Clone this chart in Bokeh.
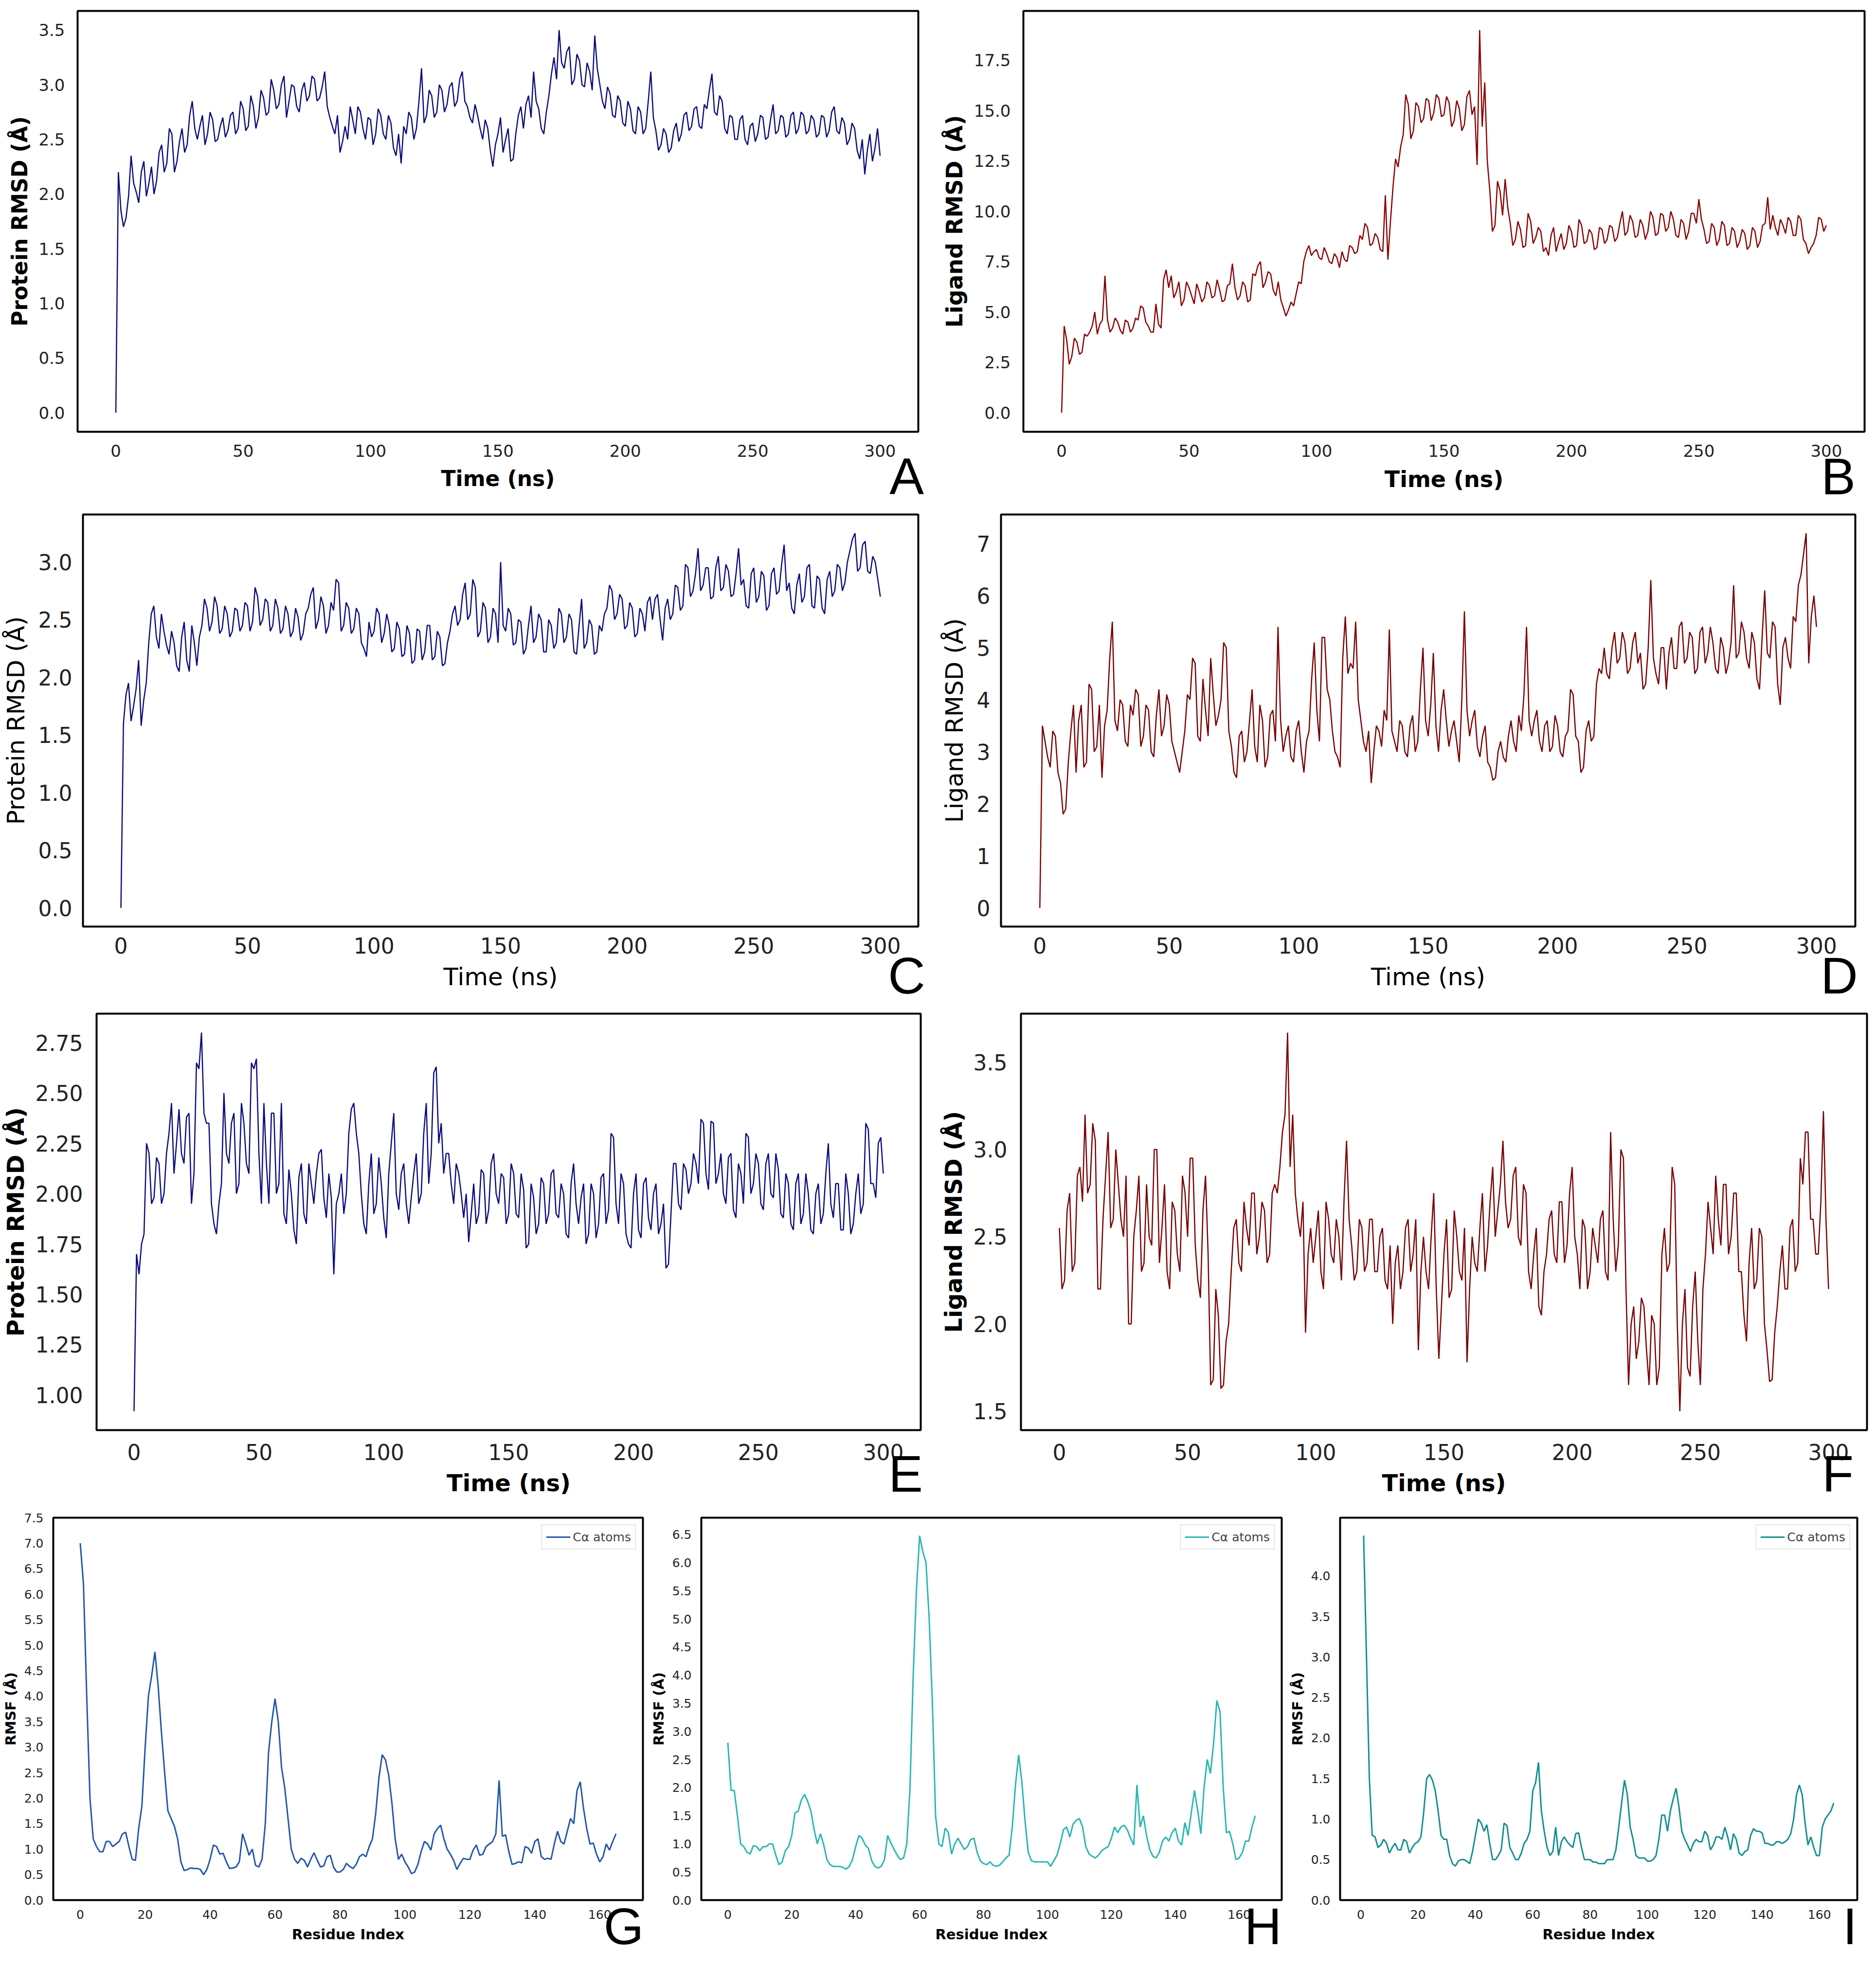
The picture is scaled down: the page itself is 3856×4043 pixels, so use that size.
from bokeh.plotting import figure
from bokeh.layouts import column, row
from bokeh.models import FixedTicker, PrintfTickFormatter, Range1d, LinearAxis
from bokeh.embed import file_html
from bokeh.resources import INLINE

# ---- data (one value per ns) ----
time_ns = list(range(0, 301))

rmsd_a = [0.0, 2.2, 1.85, 1.7, 1.78, 1.98, 2.35, 2.1, 2.02, 1.92,
          2.2, 2.3, 1.98, 2.1, 2.25, 2.0, 2.12, 2.38, 2.45, 2.2,
          2.28, 2.6, 2.55, 2.2, 2.3, 2.48, 2.6, 2.38, 2.45, 2.72,
          2.85, 2.6, 2.5, 2.62, 2.72, 2.45, 2.55, 2.75, 2.68, 2.48,
          2.5, 2.62, 2.7, 2.52, 2.58, 2.72, 2.75, 2.55, 2.6, 2.85,
          2.78, 2.58, 2.62, 2.9, 2.8, 2.6, 2.7, 2.95, 2.88, 2.72,
          2.75, 3.05, 2.95, 2.78, 2.82, 3.0, 3.08, 2.7, 2.85, 3.0,
          2.98, 2.8, 2.75, 2.95, 3.02, 2.85, 2.9, 3.08, 3.05, 2.85,
          2.88, 2.98, 3.12, 2.8, 2.7, 2.62, 2.55, 2.72, 2.38, 2.48,
          2.62, 2.5, 2.8, 2.68, 2.55, 2.8, 2.75, 2.6, 2.5, 2.7,
          2.68, 2.45, 2.55, 2.78, 2.72, 2.55, 2.5, 2.72, 2.65, 2.42,
          2.35, 2.55, 2.28, 2.62, 2.55, 2.75, 2.7, 2.5, 2.6, 2.85,
          3.15, 2.65, 2.72, 2.95, 2.9, 2.7, 2.75, 3.0, 2.95, 2.75,
          2.82, 2.98, 3.02, 2.8, 2.85, 3.05, 3.12, 2.85, 2.8, 2.7,
          2.65, 2.82, 2.72, 2.6, 2.5, 2.68, 2.6, 2.4, 2.25, 2.45,
          2.55, 2.7, 2.38, 2.5, 2.6, 2.3, 2.32, 2.55, 2.72, 2.8,
          2.6, 2.82, 2.9, 2.7, 3.12, 2.85, 2.78, 2.6, 2.55, 2.75,
          2.9, 3.1, 3.25, 3.05, 3.5, 3.2, 3.15, 3.3, 3.35, 3.0,
          3.05, 3.28, 3.22, 3.0, 2.98, 3.2, 3.12, 2.95, 3.45, 3.15,
          3.0, 2.85, 2.78, 2.98, 2.92, 2.72, 2.7, 2.9, 2.85, 2.65,
          2.62, 2.85, 2.78, 2.58, 2.55, 2.8, 2.75, 2.55, 2.6, 2.85,
          3.12, 2.7, 2.58, 2.4, 2.45, 2.6, 2.55, 2.38, 2.42, 2.58,
          2.65, 2.48, 2.55, 2.72, 2.75, 2.58, 2.62, 2.78, 2.8, 2.62,
          2.6, 2.82, 2.78, 2.95, 3.1, 2.75, 2.72, 2.9, 2.85, 2.6,
          2.55, 2.72, 2.7, 2.5, 2.5, 2.68, 2.72, 2.5, 2.45, 2.62,
          2.65, 2.48, 2.55, 2.72, 2.7, 2.5, 2.52, 2.68, 2.82, 2.55,
          2.58, 2.72, 2.7, 2.52, 2.55, 2.72, 2.75, 2.55, 2.6, 2.75,
          2.72, 2.55, 2.58, 2.72, 2.68, 2.52, 2.55, 2.72, 2.7, 2.52,
          2.58, 2.75, 2.8, 2.58, 2.55, 2.7, 2.65, 2.45, 2.5, 2.65,
          2.6, 2.4, 2.32, 2.5, 2.18, 2.4, 2.55, 2.3, 2.42, 2.6,
          2.35]

rmsd_b = [0.0, 4.3, 3.6, 2.4, 2.8, 3.7, 3.5, 2.9, 3.0, 3.9,
          3.8, 4.0, 4.3, 5.0, 3.9, 4.4, 4.6, 6.8, 4.6, 4.0,
          4.2, 4.7, 4.5, 4.1, 3.9, 4.6, 4.5, 4.0, 4.2, 4.7,
          4.6, 5.3, 5.2, 4.5, 4.3, 4.0, 4.0, 5.4, 4.4, 4.2,
          6.6, 7.1, 6.2, 6.8, 5.7, 6.0, 6.5, 5.3, 5.6, 6.5,
          6.2, 5.8, 5.4, 6.4, 6.0, 5.5, 5.7, 6.5, 6.3, 5.7,
          5.8, 6.6, 6.1, 5.5, 5.6, 6.3, 6.4, 7.4, 6.2, 5.6,
          5.8, 6.5, 6.3, 5.5, 5.6, 6.9, 6.8, 7.3, 7.5, 6.2,
          6.5, 7.0, 6.9, 6.1, 5.8, 6.5, 5.6, 5.2, 4.8, 5.1,
          5.5, 5.3, 5.9, 6.5, 6.4, 7.5, 8.0, 8.3, 7.8, 8.0,
          8.1, 7.7, 7.6, 8.2, 7.9, 7.5, 7.4, 7.9, 7.7, 7.2,
          8.0, 7.6, 7.5, 8.3, 8.2, 7.9, 8.0, 8.8, 8.6, 9.4,
          9.2, 8.3, 8.4, 8.9, 8.7, 8.1, 8.0, 10.8, 7.6, 9.5,
          11.2, 12.6, 12.2, 13.2, 13.8, 15.8, 15.3, 13.6, 14.0, 15.4,
          15.2, 14.4, 14.6, 15.6, 15.5, 14.5, 14.9, 15.8, 15.6, 14.7,
          14.8, 15.7, 15.4, 14.2, 14.5, 15.5, 15.1, 14.0, 14.3, 15.7,
          16.0, 14.8, 15.2, 12.3, 19.0, 14.2, 16.4, 12.5, 11.0, 9.0,
          9.3, 11.5, 11.0, 9.8, 11.6, 10.2, 9.4, 8.3, 8.6, 9.5,
          9.1, 8.2, 8.3, 9.9, 9.5, 8.4, 8.7, 9.2, 9.0, 8.0,
          8.2, 7.8, 8.8, 9.2, 8.0, 8.5, 8.9, 8.1, 8.4, 9.3,
          9.0, 8.2, 8.3, 9.6, 9.3, 8.4, 8.5, 9.1, 8.9, 8.1,
          8.2, 9.2, 9.1, 8.4, 8.6, 9.3, 9.2, 8.5, 8.7, 9.4,
          10.0, 8.8, 9.0, 9.8, 9.5, 8.7, 8.8, 9.6, 9.3, 8.6,
          9.0, 10.0, 9.7, 8.8, 8.9, 9.9, 9.8, 9.0, 9.2, 10.0,
          9.6, 8.8, 8.7, 9.6, 9.4, 8.6, 9.0, 9.9, 9.9, 9.4,
          10.6, 9.6, 9.1, 8.4, 8.5, 9.4, 9.2, 8.3, 8.6, 9.5,
          9.3, 8.3, 8.4, 9.2, 9.0, 8.2, 8.5, 9.1, 8.9, 8.1,
          8.3, 9.2, 9.0, 8.2, 8.5, 9.3, 9.4, 10.7, 9.1, 9.8,
          9.2, 8.8, 9.6, 9.3, 8.9, 9.7, 9.5, 8.8, 8.8, 9.8,
          9.6, 8.6, 8.4, 7.9, 8.2, 8.4, 8.8, 9.7, 9.6, 9.0,
          9.3]

rmsd_c = [0.0, 1.6, 1.85, 1.95, 1.62, 1.75, 1.9, 2.15, 1.58, 1.8,
          1.95, 2.3, 2.55, 2.62, 2.35, 2.25, 2.55, 2.4, 2.28, 2.2,
          2.4, 2.3, 2.1, 2.05, 2.35, 2.48, 2.15, 2.05, 2.45, 2.3,
          2.1, 2.35, 2.45, 2.68, 2.6, 2.4, 2.48, 2.7, 2.62, 2.38,
          2.42, 2.62, 2.55, 2.35, 2.4, 2.6, 2.58, 2.4, 2.45, 2.65,
          2.62, 2.4, 2.48, 2.78, 2.7, 2.45, 2.5, 2.68, 2.65, 2.4,
          2.45, 2.68, 2.6, 2.38, 2.42, 2.62, 2.55, 2.35, 2.4, 2.6,
          2.52, 2.32, 2.38, 2.55, 2.6, 2.72, 2.78, 2.42, 2.5, 2.7,
          2.62, 2.38, 2.45, 2.65, 2.58, 2.85, 2.82, 2.4, 2.45, 2.65,
          2.6, 2.38, 2.42, 2.6, 2.55, 2.3, 2.25, 2.18, 2.48, 2.35,
          2.4, 2.6, 2.55, 2.3, 2.38, 2.55, 2.45, 2.22, 2.25, 2.48,
          2.42, 2.18, 2.2, 2.45, 2.38, 2.12, 2.15, 2.42, 2.4, 2.15,
          2.22, 2.45, 2.45, 2.15, 2.18, 2.4, 2.35, 2.1, 2.12, 2.3,
          2.4, 2.55, 2.62, 2.45, 2.5, 2.72, 2.82, 2.5, 2.55, 2.85,
          2.78, 2.35, 2.4, 2.65, 2.6, 2.3, 2.35, 2.6, 2.55, 2.3,
          3.0, 2.45, 2.4, 2.6, 2.55, 2.28, 2.3, 2.5, 2.48, 2.2,
          2.25, 2.45, 2.62, 2.3, 2.35, 2.55, 2.5, 2.22, 2.22, 2.5,
          2.45, 2.25, 2.3, 2.6, 2.55, 2.3, 2.35, 2.55, 2.5, 2.22,
          2.2, 2.45, 2.68, 2.25, 2.3, 2.5, 2.45, 2.2, 2.22, 2.45,
          2.4, 2.55, 2.6, 2.8, 2.75, 2.5, 2.55, 2.72, 2.68, 2.42,
          2.45, 2.65, 2.6, 2.35, 2.38, 2.6, 2.55, 2.4, 2.65, 2.7,
          2.5, 2.68, 2.72, 2.5, 2.32, 2.6, 2.68, 2.5, 2.55, 2.8,
          2.78, 2.58, 2.62, 2.98, 2.95, 2.7, 2.75, 2.9, 3.12, 2.75,
          2.8, 2.95, 2.95, 2.68, 2.7, 2.95, 3.05, 2.75, 2.78, 2.98,
          2.92, 2.7, 2.72, 2.9, 3.12, 2.8, 2.85, 2.62, 2.6, 2.9,
          2.95, 2.65, 2.7, 2.92, 2.88, 2.58, 2.62, 2.9, 2.95, 2.72,
          2.75, 2.98, 3.15, 2.75, 2.82, 2.6, 2.55, 2.8, 2.9, 2.65,
          2.7, 2.95, 2.98, 2.62, 2.6, 2.88, 2.85, 2.6, 2.55, 2.85,
          2.92, 2.7, 2.75, 2.98, 2.95, 2.75, 2.82, 3.0, 3.1, 3.2,
          3.25, 2.92, 2.95, 3.15, 3.18, 2.92, 2.9, 3.05, 3.0, 2.85,
          2.7]

rmsd_d = [0.0, 3.5, 3.2, 2.9, 2.7, 3.4, 3.3, 2.6, 2.4, 1.8,
          1.9, 2.8, 3.4, 3.9, 2.6, 3.6, 3.9, 2.7, 2.8, 4.3,
          4.2, 3.0, 3.1, 3.9, 2.5, 3.5, 3.8, 4.8, 5.5, 3.6,
          3.4, 4.0, 3.9, 3.2, 3.1, 3.9, 3.7, 4.2, 4.1, 3.1,
          3.3, 3.9, 3.8, 3.0, 2.9, 3.7, 4.2, 3.3, 3.5, 4.1,
          3.9, 3.2, 3.0, 2.8, 2.6, 3.0, 3.4, 4.1, 4.0, 4.8,
          4.7, 3.3, 3.2, 4.4, 3.8, 3.3, 4.8, 4.1, 3.5, 3.7,
          4.0, 5.1, 5.0, 3.4, 3.1, 2.6, 2.5, 3.3, 3.4, 2.8,
          3.0, 3.6, 4.2, 3.1, 2.8, 3.9, 3.6, 2.7, 2.9, 3.7,
          3.8, 3.2, 5.4, 3.6, 3.0, 3.3, 3.5, 2.9, 2.8, 3.4,
          3.6, 3.0, 2.6, 3.2, 3.4, 4.4, 5.1, 3.8, 3.2, 5.2,
          5.2, 4.2, 4.0, 3.4, 3.0, 2.9, 2.7, 4.8, 5.6, 4.5,
          4.7, 4.6, 5.5, 4.0, 3.6, 3.2, 3.0, 3.4, 2.4, 3.0,
          3.5, 3.4, 3.1, 3.8, 3.6, 5.35, 3.4, 3.2, 3.0, 3.6,
          3.5, 3.0, 2.9, 3.5, 3.7, 3.0, 3.2, 4.2, 5.0, 3.6,
          3.3, 3.9, 4.9, 3.5, 3.0, 3.8, 4.2, 3.6, 3.1, 3.4,
          3.6, 3.2, 2.8, 4.0, 5.7, 3.8, 3.3, 3.6, 3.8, 3.1,
          2.9, 3.3, 3.5, 2.8, 2.7, 2.45, 2.5, 3.0, 3.2, 2.9,
          2.8, 3.3, 3.6, 3.2, 3.0, 3.7, 3.4, 4.1, 5.4, 3.6,
          3.3, 3.6, 3.8, 3.2, 3.0, 3.5, 3.6, 3.0, 3.1, 3.7,
          3.5, 3.0, 2.9, 3.3, 3.4, 4.2, 4.1, 3.3, 3.2, 2.6,
          2.7, 3.4, 3.6, 3.2, 3.3, 4.3, 4.6, 4.5, 5.0, 4.5,
          4.4, 5.0, 5.3, 4.7, 4.8, 5.3, 5.1, 4.5, 4.6, 5.1,
          5.3, 4.7, 4.9, 4.2, 4.3, 5.0, 6.3, 4.8, 4.5, 4.3,
          5.0, 5.0, 4.2, 4.9, 5.2, 4.6, 4.6, 5.4, 5.5, 4.7,
          4.8, 5.3, 5.2, 4.5, 4.6, 5.3, 5.4, 4.7, 4.9, 5.4,
          5.1, 4.6, 4.5, 5.2, 5.0, 4.5, 4.7, 5.1, 6.2, 4.8,
          4.9, 5.5, 5.3, 4.8, 4.6, 5.3, 5.1, 4.4, 4.2, 5.2,
          6.1, 4.9, 4.8, 5.5, 5.4, 4.3, 3.9, 5.0, 5.2, 4.8,
          4.6, 5.6, 5.5, 6.2, 6.4, 6.8, 7.2, 4.7, 5.6, 6.0,
          5.4]

rmsd_e = [0.92, 1.7, 1.6, 1.75, 1.8, 2.25, 2.2, 1.95, 1.98, 2.18,
          2.15, 1.95, 2.0, 2.2, 2.3, 2.45, 2.1, 2.25, 2.42, 2.2,
          2.15, 2.38, 2.4, 1.95, 2.1, 2.65, 2.62, 2.8, 2.4, 2.35,
          2.35, 1.95, 1.85, 1.8, 1.95, 2.05, 2.5, 2.2, 2.15, 2.35,
          2.4, 2.0, 2.05, 2.45, 2.35, 2.15, 2.1, 2.65, 2.62, 2.67,
          2.2, 1.95, 2.45, 2.15, 1.95, 2.4, 2.4, 2.0, 2.05, 2.45,
          1.9, 1.85, 2.12, 2.0, 1.82, 1.75, 2.08, 2.15, 1.9, 1.85,
          2.15, 2.05, 1.95, 2.1, 2.2, 2.22, 1.98, 1.88, 2.1, 1.98,
          1.6, 1.95, 2.0, 2.1, 1.9, 2.0, 2.3, 2.42, 2.45, 2.3,
          2.2, 2.0, 1.85, 1.8, 2.05, 2.2, 1.9, 1.95, 2.18, 2.05,
          1.88, 1.78, 2.1, 2.25, 2.4, 2.0, 1.92, 2.1, 2.15, 1.95,
          1.85, 1.98, 2.1, 2.2, 1.95, 2.0, 2.3, 2.45, 2.05, 2.2,
          2.6, 2.63, 2.25, 2.35, 2.1, 2.2, 2.2, 2.05, 1.95, 2.15,
          2.1, 2.0, 1.88, 2.0, 1.76, 1.9, 2.05, 1.85, 1.9, 2.12,
          2.1, 1.85, 1.92, 2.15, 2.2, 2.0, 1.95, 2.1, 2.08, 1.85,
          1.9, 2.15, 2.1, 1.9, 1.88, 2.1, 2.02, 1.73, 1.75, 2.05,
          1.98, 1.8, 1.85, 2.08, 2.05, 1.85, 1.9, 2.1, 2.12, 1.9,
          1.88, 2.05, 2.0, 1.8, 1.78, 2.05, 2.15, 1.95, 1.85, 1.98,
          2.05, 1.75, 1.8, 2.05, 2.0, 1.78, 1.85, 2.08, 2.1, 1.85,
          1.92, 2.3, 2.28, 1.95, 1.85, 2.1, 2.05, 1.8, 1.75, 1.73,
          2.0, 2.1, 1.82, 1.78, 2.05, 2.08, 1.88, 1.82, 2.0, 2.05,
          1.8, 1.85, 1.95, 1.63, 1.65, 1.9, 2.15, 2.15, 1.95, 1.92,
          2.15, 2.12, 2.0, 2.05, 2.2, 2.15, 2.05, 2.37, 2.35, 2.1,
          2.02, 2.36, 2.35, 2.05, 2.1, 2.2, 2.0, 1.95, 2.18, 2.2,
          1.92, 1.88, 2.15, 2.1, 1.95, 2.3, 2.28, 2.0, 2.05, 2.2,
          2.15, 1.95, 1.92, 2.15, 2.2, 2.0, 1.98, 2.2, 2.12, 1.9,
          1.88, 2.1, 2.05, 1.85, 1.82, 2.05, 2.1, 1.85, 1.9, 2.1,
          2.0, 1.82, 1.8, 2.0, 2.05, 1.85, 1.9, 2.1, 2.25, 1.95,
          1.88, 2.05, 2.05, 1.82, 1.82, 2.1, 2.0, 1.8, 1.85, 2.0,
          2.1, 1.9, 1.95, 2.35, 2.32, 2.05, 2.05, 1.98, 2.25, 2.28,
          2.1]

rmsd_f = [2.55, 2.2, 2.25, 2.65, 2.75, 2.3, 2.35, 2.85, 2.9, 2.7,
          3.2, 2.75, 2.8, 3.15, 3.05, 2.2, 2.2, 2.6, 2.85, 3.1,
          2.55, 2.6, 3.0, 2.8, 2.6, 2.5, 2.85, 2.0, 2.0, 2.5,
          2.65, 2.85, 2.3, 2.35, 2.8, 2.5, 2.45, 3.0, 3.0, 2.35,
          2.55, 2.8, 2.3, 2.2, 2.7, 2.65, 2.4, 2.3, 2.85, 2.75,
          2.5, 2.95, 2.95, 2.45, 2.25, 2.15, 2.65, 2.85, 2.4, 1.65,
          1.68, 2.2, 2.05, 1.63, 1.65, 1.9, 2.0, 2.3, 2.55, 2.6,
          2.35, 2.3, 2.7, 2.55, 2.45, 2.75, 2.75, 2.4, 2.5, 2.7,
          2.65, 2.35, 2.4, 2.75, 2.8, 2.75, 2.9, 3.1, 3.2, 3.67,
          2.9, 3.2, 2.75, 2.6, 2.5, 2.7, 1.95, 2.4, 2.55, 2.35,
          2.5, 2.65, 2.3, 2.2, 2.7, 2.6, 2.4, 2.35, 2.6, 2.5,
          2.25, 2.7, 3.05, 2.6, 2.45, 2.25, 2.3, 2.6, 2.55, 2.3,
          2.35, 2.6, 2.6, 2.3, 2.3, 2.5, 2.55, 2.25, 2.2, 2.45,
          2.0, 2.35, 2.45, 2.2, 2.3, 2.55, 2.6, 2.3, 2.4, 2.6,
          1.85, 2.3, 2.5, 2.3, 2.2, 2.5, 2.75, 2.2, 1.8, 2.1,
          2.4, 2.6, 2.15, 2.2, 2.65, 2.5, 2.3, 2.25, 2.55, 1.78,
          2.2, 2.5, 2.35, 2.3, 2.55, 2.75, 2.3, 2.45, 2.7, 2.9,
          2.5, 2.65, 2.8, 3.05, 2.7, 2.55, 2.6, 2.85, 2.9, 2.5,
          2.45, 2.8, 2.75, 2.3, 2.2, 2.4, 2.55, 2.1, 2.05, 2.3,
          2.4, 2.6, 2.65, 2.4, 2.35, 2.7, 2.7, 2.35, 2.45, 2.75,
          2.9, 2.5, 2.4, 2.2, 2.6, 2.55, 2.2, 2.3, 2.55, 2.45,
          2.35, 2.6, 2.65, 2.3, 2.25, 3.1, 2.6, 2.3, 2.45, 3.0,
          2.95, 2.2, 1.65, 2.0, 2.1, 1.8, 1.9, 2.15, 2.1, 1.85,
          1.65, 2.05, 2.0, 1.65, 1.75, 2.4, 2.55, 2.3, 2.35, 2.9,
          2.8, 2.0, 1.5, 2.0, 2.2, 1.75, 1.7, 2.1, 2.3, 1.9,
          1.65, 2.2, 2.4, 2.7, 2.55, 2.4, 2.85, 2.6, 2.45, 2.8,
          2.8, 2.4, 2.5, 2.75, 2.75, 2.3, 2.3, 2.05, 1.9, 2.35,
          2.55, 2.2, 2.25, 2.55, 2.5, 2.0, 1.85, 1.67, 1.68, 1.95,
          2.1, 2.3, 2.45, 2.2, 2.2, 2.55, 2.6, 2.3, 2.35, 2.95,
          2.8, 3.1, 3.1, 2.6, 2.6, 2.4, 2.4, 2.7, 3.22, 2.6,
          2.2]

rmsf_g = [7.0, 6.2, 4.0, 2.0, 1.2, 1.05, 0.95, 0.95, 1.15, 1.15, 1.05, 1.1, 1.15, 1.3, 1.33, 1.05,
          0.8, 0.78, 1.4, 1.85, 3.0, 4.0, 4.4, 4.87, 4.2, 3.3, 2.5, 1.75, 1.6, 1.45, 1.2, 0.75,
          0.58, 0.6, 0.63, 0.62, 0.62, 0.6, 0.5, 0.6, 0.8, 1.08, 1.05, 0.9, 0.92, 0.75, 0.62, 0.63,
          0.65, 0.75, 1.3, 1.1, 0.88, 1.0, 0.68, 0.65, 0.8, 1.5, 2.9, 3.5, 3.95, 3.5, 2.6, 2.2,
          1.6, 1.0, 0.8, 0.72, 0.82, 0.78, 0.65, 0.8, 0.93, 0.78, 0.65, 0.67, 0.85, 0.88, 0.65, 0.55,
          0.55, 0.6, 0.72, 0.66, 0.62, 0.7, 0.85, 0.9, 0.85, 1.05, 1.2, 1.7, 2.4, 2.85, 2.75, 2.45,
          1.9, 1.2, 0.8, 0.9, 0.75, 0.65, 0.52, 0.55, 0.7, 0.95, 1.15, 1.1, 0.98, 1.3, 1.4, 1.47,
          1.2, 1.0, 0.9, 0.78, 0.6, 0.72, 0.82, 0.8, 0.8, 0.98, 1.08, 0.88, 0.9, 1.05, 1.1, 1.15,
          1.3, 2.35, 1.25, 1.28, 0.95, 0.7, 0.72, 0.75, 0.73, 1.05, 1.02, 0.92, 1.15, 1.2, 0.85, 0.8,
          0.82, 0.8, 1.1, 1.35, 1.15, 1.1, 1.35, 1.6, 1.5, 2.15, 2.32, 1.8, 1.4, 1.1, 1.12, 0.9,
          0.75, 0.85, 1.1, 0.98, 1.15, 1.3]

rmsf_h = [2.8, 1.95, 1.95, 1.5, 1.0, 0.95, 0.85, 0.82, 0.97, 0.95, 0.88, 0.95, 0.95, 1.0, 1.0, 0.8,
          0.63, 0.68, 0.88, 0.95, 1.15, 1.55, 1.58, 1.78, 1.88, 1.75, 1.58, 1.25, 1.0, 1.18, 0.98, 0.72,
          0.63, 0.6, 0.6, 0.6, 0.58, 0.55, 0.6, 0.72, 0.95, 1.15, 1.1, 0.98, 0.92, 0.7, 0.6, 0.57,
          0.6, 0.72, 1.15, 1.02, 0.9, 0.8, 0.72, 0.75, 1.0, 2.0, 4.0, 5.5, 6.48, 6.2, 6.0, 5.0,
          3.5, 1.5, 1.0, 0.95, 1.28, 1.2, 0.82, 1.0, 1.1, 1.0, 0.9, 0.95, 1.08, 1.1, 0.85, 0.7,
          0.65, 0.63, 0.68, 0.62, 0.6, 0.62, 0.68, 0.75, 0.8, 1.3, 2.05, 2.58, 2.1, 1.4, 0.85, 0.7,
          0.68, 0.68, 0.68, 0.68, 0.68, 0.6, 0.7, 0.8, 1.0, 1.25, 1.3, 1.12, 1.35, 1.42, 1.45, 1.3,
          0.95, 0.82, 0.78, 0.75, 0.8, 0.88, 0.92, 0.95, 1.1, 1.3, 1.2, 1.3, 1.33, 1.25, 1.1, 0.98,
          2.05, 1.3, 1.5, 1.15, 0.9, 0.78, 0.75, 0.85, 1.05, 1.12, 1.05, 1.2, 1.28, 1.05, 0.98, 1.38,
          1.15, 1.55, 1.95, 1.6, 1.18, 2.0, 2.5, 2.25, 2.8, 3.55, 3.35, 2.0, 1.2, 1.22, 1.0, 0.72,
          0.75, 0.85, 1.05, 1.05, 1.3, 1.5]

rmsf_i = [4.5, 3.0, 1.5, 0.8, 0.78, 0.65, 0.68, 0.75, 0.7, 0.58, 0.65, 0.7, 0.62, 0.62, 0.75, 0.72,
          0.58, 0.65, 0.7, 0.72, 0.78, 1.1, 1.5, 1.55, 1.48, 1.35, 1.1, 0.8, 0.75, 0.75, 0.55, 0.45,
          0.42, 0.48, 0.5, 0.5, 0.48, 0.45, 0.6, 0.8, 1.0, 0.95, 0.85, 0.93, 0.7, 0.5, 0.5, 0.55,
          0.62, 0.95, 0.92, 0.65, 0.58, 0.5, 0.5, 0.58, 0.7, 0.75, 0.85, 1.35, 1.45, 1.7, 1.1, 0.85,
          0.65, 0.55, 0.6, 0.9, 0.55, 0.72, 0.78, 0.72, 0.68, 0.65, 0.82, 0.83, 0.65, 0.5, 0.5, 0.5,
          0.47, 0.47, 0.45, 0.45, 0.45, 0.5, 0.5, 0.5, 0.62, 0.9, 1.2, 1.48, 1.3, 0.9, 0.75, 0.55,
          0.52, 0.52, 0.52, 0.48, 0.48, 0.5, 0.55, 0.75, 1.05, 1.05, 0.85, 1.1, 1.25, 1.38, 1.15, 0.85,
          0.75, 0.68, 0.6, 0.7, 0.75, 0.72, 0.72, 0.85, 0.8, 0.62, 0.68, 0.78, 0.78, 0.75, 0.9, 0.78,
          0.62, 0.82, 0.75, 0.58, 0.55, 0.6, 0.62, 0.8, 0.88, 0.85, 0.85, 0.83, 0.7, 0.7, 0.68, 0.68,
          0.72, 0.72, 0.7, 0.72, 0.75, 0.82, 1.0, 1.3, 1.42, 1.3, 0.95, 0.68, 0.78, 0.65, 0.55, 0.55,
          0.9, 1.0, 1.05, 1.1, 1.2]

residue_g = list(range(0, len(rmsf_g)))
residue_h = list(range(0, len(rmsf_h)))
residue_i = list(range(1, len(rmsf_i) + 1))

time_ticks = [0, 50, 100, 150, 200, 250, 300]
residue_ticks = [0, 20, 40, 60, 80, 100, 120, 140, 160]

FONT = "DejaVu Sans"
LETTER_FONT = "Liberation Sans"
LETTER_PX = 106


def px(size):
    return float(size.replace("px", ""))


def style_axes(p, tick_size, label_size, bold, tick_std, xlab_std, ylab_std):
    for ax in (p.xaxis[0], p.yaxis[0]):
        ax.major_tick_line_color = None
        ax.minor_tick_line_color = None
        ax.major_tick_out = 0
        ax.major_tick_in = 0
        ax.axis_line_color = None
        ax.major_label_text_font = FONT
        ax.major_label_text_font_size = tick_size
        ax.major_label_text_color = "#222222"
        ax.major_label_standoff = tick_std
        ax.axis_label_text_font = FONT
        ax.axis_label_text_font_size = label_size
        ax.axis_label_text_font_style = "bold" if bold else "normal"
        ax.axis_label_text_color = "black"
    p.xaxis[0].axis_label_standoff = xlab_std
    p.yaxis[0].axis_label_standoff = ylab_std
    p.grid.grid_line_color = None
    p.outline_line_color = "black"
    p.outline_line_width = 4


def add_letter(p, letter, w, borders, shift, cap_top, axis_extent):
    # the panel letter is the lone tick label of a bare second axis under the first one;
    # a negative standoff pulls it up beside the axis title
    left, right, top, bottom = borders
    frame_w = w - left - right
    xr = p.x_range
    xpos = xr.end + shift * (xr.end - xr.start) / frame_w
    standoff = int(round(cap_top - 0.19 * LETTER_PX - axis_extent))
    ax = LinearAxis(ticker=FixedTicker(ticks=[xpos]),
                    formatter=PrintfTickFormatter(format=letter))
    ax.axis_line_color = None
    ax.major_tick_line_color = None
    ax.minor_tick_line_color = None
    ax.major_tick_out = 0
    ax.major_tick_in = 0
    ax.major_label_standoff = standoff
    ax.major_label_text_font = LETTER_FONT
    ax.major_label_text_font_size = "%dpx" % LETTER_PX
    ax.major_label_text_color = "black"
    p.add_layout(ax, "below")


def rmsd_panel(y, color, ylabel, yticks, yfmt, letter, bold, w, h, borders, tick_size,
               label_size, shift, cap_top, tick_std=26, xlab_std=16, ylab_std=10):
    lo, hi = min(y), max(y)
    pad = (hi - lo) * 0.05
    left, right, top, bottom = borders
    p = figure(width=w, height=h, output_backend="svg", toolbar_location=None, tools="",
               x_range=Range1d(-15, 315), y_range=Range1d(lo - pad, hi + pad),
               min_border_left=left, min_border_right=right,
               min_border_top=top, min_border_bottom=bottom)
    p.line(time_ns, y, line_color=color, line_width=2.5)
    p.xaxis.ticker = FixedTicker(ticks=time_ticks)
    p.xaxis.formatter = PrintfTickFormatter(format="%d")
    p.yaxis.ticker = FixedTicker(ticks=yticks)
    p.yaxis.formatter = PrintfTickFormatter(format=yfmt)
    p.xaxis.axis_label = "Time (ns)"
    p.yaxis.axis_label = ylabel
    style_axes(p, tick_size, label_size, bold, tick_std, xlab_std, ylab_std)
    extent = tick_std + 1.164 * px(tick_size) + xlab_std + 1.164 * px(label_size)
    add_letter(p, letter, w, borders, shift, cap_top, extent)
    return p


def rmsf_panel(x, y, color, ymax, xlo, xhi, yticks, letter, w, h, borders, shift):
    left, right, top, bottom = borders
    p = figure(width=w, height=h, output_backend="svg", toolbar_location=None, tools="",
               x_range=Range1d(xlo, xhi), y_range=Range1d(0, ymax),
               min_border_left=left, min_border_right=right,
               min_border_top=top, min_border_bottom=bottom)
    p.line(x, y, line_color=color, line_width=3, legend_label="C\u03b1 atoms")
    p.xaxis.ticker = FixedTicker(ticks=residue_ticks)
    p.xaxis.formatter = PrintfTickFormatter(format="%d")
    p.yaxis.ticker = FixedTicker(ticks=yticks)
    p.yaxis.formatter = PrintfTickFormatter(format="%.1f")
    p.xaxis.axis_label = "Residue Index"
    p.yaxis.axis_label = "RMSF (\u00c5)"
    style_axes(p, "25px", "29px", True, 20, 12, 8)
    lg = p.legend[0]
    lg.location = "top_right"
    lg.margin = 14
    lg.padding = 8
    lg.label_text_font = FONT
    lg.label_text_font_size = "25px"
    lg.glyph_width = 50
    lg.glyph_height = 32
    lg.border_line_color = "#cccccc"
    lg.border_line_width = 2
    lg.background_fill_alpha = 0.8
    extent = 20 + 1.164 * 25 + 12 + 1.164 * 29
    add_letter(p, letter, w, borders, shift, 19, extent)
    return p


half = [0.0, 0.5, 1.0, 1.5, 2.0, 2.5, 3.0, 3.5]

pa = rmsd_panel(rmsd_a, "#0b0b80", "Protein RMSD (\u00c5)", half, "%.1f", "A", True,
                1920, 1047, (159, 33, 22, 160), "34px", "44px", -24, 60)
pb = rmsd_panel(rmsd_b, "#8b0000", "Ligand RMSD (\u00c5)", [0, 2.5, 5, 7.5, 10, 12.5, 15, 17.5],
                "%.1f", "B", True, 1920, 1047, (183, 8, 22, 160), "34px", "46px", -54, 60)

pc = rmsd_panel(rmsd_c, "#0b0b80", "Protein RMSD (\u00c5)", half[:7], "%.1f", "C", False,
                1920, 1030, (170, 33, 10, 173), "44px", "50px", -24, 74, tick_std=22, ylab_std=14)
pd = rmsd_panel(rmsd_d, "#7a0000", "Ligand RMSD (\u00c5)", [0, 1, 2, 3, 4, 5, 6, 7], "%d", "D", False,
                1920, 1030, (137, 27, 10, 173), "44px", "50px", -33, 74, tick_std=22, ylab_std=14)

pe = rmsd_panel(rmsd_e, "#0b0b80", "Protein RMSD (\u00c5)", [1.0, 1.25, 1.5, 1.75, 2.0, 2.25, 2.5, 2.75],
                "%.2f", "E", True, 1920, 1022, (197, 28, 6, 160), "44px", "48px", -31, 62, tick_std=28)
pf = rmsd_panel(rmsd_f, "#7a0000", "Ligand RMSD (\u00c5)", [1.5, 2.0, 2.5, 3.0, 3.5], "%.1f", "F", True,
                1920, 1022, (178, 3, 6, 160), "44px", "48px", -60, 62, tick_std=28)

pg = rmsf_panel(residue_g, rmsf_g, "#2456ab", 7.5, -8.3, 173.3,
                [0.5 * k for k in range(16)], "G", 1327, 928, (109, 6, 20, 117), -31)
ph = rmsf_panel(residue_h, rmsf_h, "#2ab7b3", 6.8, -8.3, 173.3,
                [0.5 * k for k in range(14)], "H", 1315, 928, (114, 8, 20, 117), -22)
pi = rmsf_panel(residue_i, rmsf_i, "#138f8f", 4.72, -7.2, 173.2,
                [0.5 * k for k in range(9)], "I", 1198, 928, (112, 23, 20, 122), -15)

p = column(row(pa, pb), row(pc, pd), row(pe, pf), row(pg, ph, pi), spacing=0)
for r in p.children:
    r.spacing = 0

open("out.html", "w").write(file_html(p, INLINE))
